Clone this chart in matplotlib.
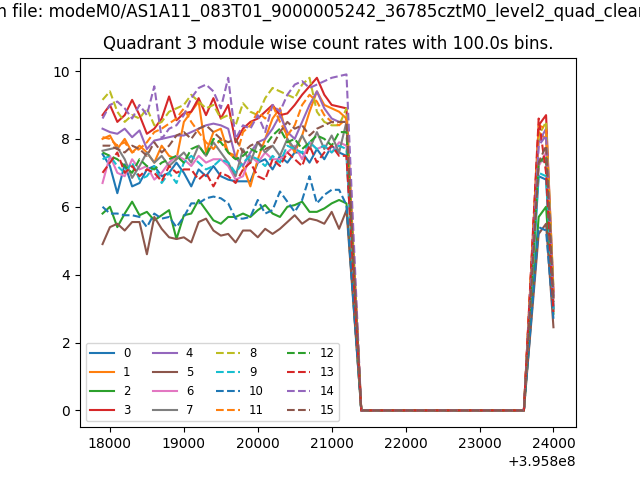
import matplotlib
matplotlib.use("Agg")
import matplotlib.pyplot as plt
import numpy as np

# Plot settings
file_name = "modeM0/AS1A11_083T01_9000005242_36785cztM0_level2_quad_clean.evt"
quadrant = 3
bin_size = 100.0
t_start = 395817900.0
n_bins = 62
n_gap = 23  # empty bins between the two good time intervals

# Count rates per module: first interval (incl. last partial bin)
m0 = [7.55, 7.2, 6.4, 7.25, 6.6, 6.7, 7.1, 7.2, 6.9, 7.0, 7.3, 7.0, 6.6, 7.1, 6.9, 7.2, 6.9,
      6.8, 6.75, 6.75, 6.75, 7.3, 7.4, 7.1, 7.5, 7.3, 7.6, 7.6, 7.3, 7.7, 7.4, 7.8, 7.6, 7.5, 3.75]
m1 = [8.0, 8.1, 7.7, 8.0, 7.6, 7.8, 7.6, 7.3, 7.8, 7.5, 7.4, 8.5, 8.8, 9.1, 7.6, 8.2, 8.3,
      7.6, 7.5, 7.2, 6.6, 7.4, 8.0, 8.6, 8.9, 8.0, 7.6, 8.1, 8.8, 9.4, 9.0, 8.9, 8.8, 8.6, 4.3]
m2 = [5.8, 6.0, 5.4, 5.8, 6.15, 5.75, 5.85, 5.6, 5.75, 5.9, 5.05, 5.75, 5.8, 6.2, 5.9, 5.6, 5.5,
      5.7, 5.7, 5.8, 5.7, 5.9, 6.05, 5.8, 5.7, 6.0, 6.05, 6.15, 5.85, 5.85, 5.95, 6.1, 6.2, 6.1, 3.05]
m3 = [8.7, 9.0, 8.5, 8.7, 9.15, 8.7, 8.15, 8.3, 8.6, 9.25, 8.55, 8.75, 8.8, 9.2, 8.7, 9.2, 8.6,
      9.0, 7.9, 8.3, 8.5, 8.6, 8.8, 9.0, 8.7, 8.75, 9.0, 9.3, 9.55, 9.8, 9.3, 9.0, 8.95, 8.9, 4.45]
m4 = [8.3, 8.2, 8.15, 8.3, 8.05, 8.25, 7.7, 7.95, 8.0, 8.05, 8.1, 8.1, 8.2, 8.3, 8.4, 8.45, 8.4,
      8.3, 7.45, 7.2, 7.6, 7.9, 8.0, 8.3, 8.7, 8.2, 8.0, 8.5, 9.0, 9.4, 8.9, 8.6, 8.5, 8.5, 4.25]
m5 = [4.9, 5.4, 5.5, 5.3, 5.55, 5.55, 4.6, 5.7, 5.35, 5.1, 5.05, 5.1, 4.95, 5.55, 5.65, 5.3, 5.15,
      5.2, 4.95, 5.3, 5.3, 5.1, 5.35, 5.2, 5.35, 5.55, 5.75, 5.5, 5.65, 5.6, 5.5, 5.85, 5.35, 5.9, 2.95]
m6 = [6.7, 7.5, 7.0, 6.9, 7.4, 7.1, 7.2, 6.8, 7.0, 7.3, 7.5, 7.4, 7.2, 7.5, 7.3, 7.4, 7.4,
      7.2, 6.8, 6.9, 7.5, 7.3, 7.6, 7.4, 7.4, 7.6, 7.8, 7.4, 7.9, 7.7, 7.8, 7.6, 7.9, 7.8, 3.9]
m7 = [7.65, 7.7, 7.75, 7.4, 6.85, 7.2, 7.6, 7.3, 7.5, 7.2, 7.4, 7.6, 7.3, 7.8, 7.5, 7.9, 7.6,
      7.3, 6.9, 7.7, 7.3, 7.9, 7.6, 7.8, 7.5, 8.0, 7.7, 8.1, 7.7, 8.2, 7.7, 8.1, 7.6, 8.5, 4.2]
m8 = [9.15, 9.4, 8.8, 8.5, 8.7, 8.6, 8.9, 8.4, 8.5, 8.8, 8.9, 9.0, 9.3, 9.1, 8.9, 9.0, 8.6,
      8.7, 8.4, 9.05, 8.8, 8.7, 9.2, 9.5, 9.4, 9.3, 9.2, 9.6, 9.8, 8.8, 8.5, 8.4, 8.4, 8.9, 4.45]
m9 = [7.4, 7.5, 7.2, 7.0, 7.3, 6.8, 6.9, 7.2, 6.7, 7.0, 6.7, 7.3, 7.5, 7.3, 7.1, 7.2, 7.4,
      7.3, 7.0, 7.3, 7.5, 7.4, 7.2, 7.5, 7.3, 7.8, 7.7, 7.6, 7.9, 7.7, 7.8, 7.6, 7.8, 7.7, 3.85]
m10 = [6.0, 5.8, 5.8, 5.75, 5.75, 5.7, 5.4, 5.8, 5.65, 5.7, 5.4, 5.7, 6.1, 6.1, 6.25, 6.3, 6.25,
       6.1, 5.65, 5.65, 5.7, 6.2, 5.8, 5.9, 6.45, 6.15, 5.85, 6.2, 6.9, 6.1, 6.35, 6.5, 6.5, 6.05, 3.0]
m11 = [8.05, 8.0, 7.8, 7.9, 7.6, 7.7, 7.9, 8.2, 8.3, 8.45, 8.6, 8.9, 8.5, 8.2, 7.9, 7.7, 8.0,
       7.6, 7.4, 8.2, 8.4, 8.8, 8.6, 9.0, 8.5, 8.1, 8.4, 9.0, 9.3, 9.1, 8.7, 8.5, 8.4, 8.6, 4.3]
m12 = [7.6, 7.5, 7.4, 7.2, 7.0, 7.4, 7.2, 7.1, 7.3, 7.4, 7.5, 7.3, 7.7, 7.8, 7.5, 8.0, 7.9,
       7.6, 7.4, 7.5, 7.7, 7.6, 7.8, 8.1, 8.3, 7.9, 8.0, 7.7, 7.9, 8.1, 8.0, 7.8, 8.2, 8.2, 4.1]
m13 = [7.0, 7.3, 7.6, 7.0, 7.2, 6.9, 7.1, 7.0, 6.75, 7.2, 7.0, 7.1, 7.1, 6.8, 7.0, 6.6, 7.0,
       6.9, 6.7, 7.1, 7.3, 6.9, 6.8, 7.4, 7.2, 7.6, 7.4, 7.2, 7.8, 7.3, 7.6, 7.8, 7.5, 7.5, 3.75]
m14 = [8.6, 9.0, 9.1, 8.9, 8.6, 9.0, 8.7, 9.55, 8.0, 8.3, 8.4, 8.7, 9.2, 9.5, 9.6, 9.4, 8.9,
       9.8, 8.0, 8.4, 8.3, 8.7, 8.2, 9.0, 8.8, 9.3, 9.6, 9.7, 9.5, 9.6, 9.7, 9.8, 9.85, 9.9, 4.95]
m15 = [7.8, 7.8, 7.7, 7.6, 7.8, 7.7, 7.5, 7.9, 7.6, 7.8, 8.1, 8.2, 8.0, 8.3, 8.4, 8.2, 8.0,
       7.9, 8.0, 7.6, 7.8, 7.9, 7.7, 7.8, 8.2, 8.5, 8.3, 8.4, 8.1, 8.3, 8.4, 8.5, 8.5, 8.5, 4.25]

# Second interval (partial, full, full, partial)
t0 = [3.4, 6.9, 6.8, 3.0]
t1 = [4.1, 8.2, 8.0, 3.3]
t2 = [2.8, 5.7, 6.0, 2.85]
t3 = [4.2, 8.4, 8.7, 3.5]
t4 = [4.0, 7.9, 8.3, 3.4]
t5 = [2.6, 5.2, 5.5, 2.45]
t6 = [3.6, 7.2, 7.6, 3.1]
t7 = [3.7, 7.4, 7.3, 3.0]
t8 = [4.1, 8.1, 8.5, 3.6]
t9 = [3.5, 7.0, 6.9, 3.0]
t10 = [2.7, 5.4, 5.3, 2.7]
t11 = [4.2, 8.4, 8.3, 3.4]
t12 = [3.6, 7.3, 7.5, 3.2]
t13 = [4.3, 8.6, 7.0, 2.9]
t14 = [3.9, 7.8, 8.1, 3.3]
t15 = [3.6, 7.3, 7.8, 3.2]

first = [m0, m1, m2, m3, m4, m5, m6, m7, m8, m9, m10, m11, m12, m13, m14, m15]
second = [t0, t1, t2, t3, t4, t5, t6, t7, t8, t9, t10, t11, t12, t13, t14, t15]


def main():
    times = t_start + bin_size * np.arange(n_bins)

    fig = plt.figure(figsize=(6.4, 4.8), dpi=100)
    ax = fig.add_subplot(111)

    for mod in range(16):
        rate = np.array(first[mod] + [0.0] * n_gap + second[mod])
        style = '-' if mod < 8 else '--'
        ax.plot(times, rate, linestyle=style, label=str(mod))

    ax.set_title("Quadrant %d module wise count rates with %.1fs bins." % (quadrant, bin_size))
    # file name is long and runs past the figure edges, as in the original
    fig.suptitle("Clean file: " + file_name, y=0.995)
    ax.legend(loc='lower left', ncol=4, fontsize='small')

    fig.savefig("out.png")


if __name__ == "__main__":
    main()
